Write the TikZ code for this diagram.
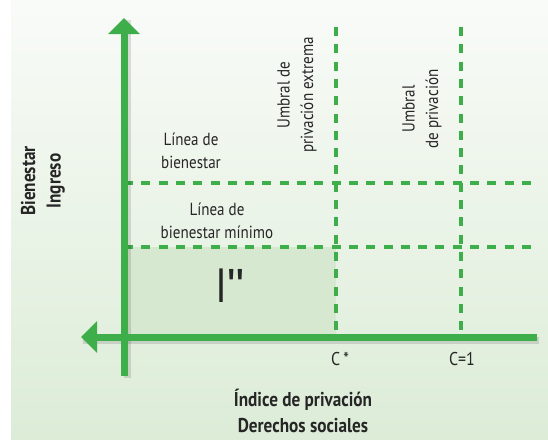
\documentclass[tikz,border=0pt]{standalone}
\usepackage{fontspec}
\setmainfont{PT Sans}[FakeStretch=0.86]
\newfontfamily\markfont{Liberation Sans}[Ligatures=TeXOff]
\usepackage{tikz}
\usetikzlibrary{arrows.meta}
\definecolor{axisgreen}{HTML}{3DAE49}
\definecolor{bgtop}{HTML}{F9FBF8}
\definecolor{bgbot}{HTML}{DCECD7}
\definecolor{zonegreen}{HTML}{D6E8D0}
\tikzset{
  axis/.style={axisgreen,line width=7pt,-{Triangle[length=16pt,width=31pt]}},
  umbral/.style={axisgreen,line width=4pt,dash pattern=on 9pt off 8.3pt},
  lbl/.style={align=center,inner sep=0pt,font=\fontsize{17.5}{23.5}\selectfont,text=black!85},
  tit/.style={align=center,inner sep=0pt,font=\bfseries\fontsize{20}{25.5}\selectfont,text=black!85}
}
\begin{document}
\begin{tikzpicture}[x=1pt,y=-1pt]
\useasboundingbox (0,0) rectangle (548,439);
\shade[top color=bgtop,bottom color=bgbot] (11,0) rectangle (548,439);
%
\coordinate (o) at (124,337);
\coordinate (ytop) at (124,18);
\coordinate (ybot) at (124,376);
\coordinate (xleft) at (81,337);
\coordinate (xright) at (537,337);
\coordinate (cs) at (336,337);
\coordinate (cstop) at (336,27);
\coordinate (cu) at (461,337);
\coordinate (cutop) at (461,27);
\coordinate (lm) at (124,247);
\coordinate (lmend) at (538,247);
\coordinate (lb) at (124,183);
\coordinate (lbend) at (538,183);
%
\fill[zonegreen] (lm) rectangle (cs);
\draw[umbral] (lb) -- (lbend);
\draw[umbral] (lm) -- (lmend);
\draw[umbral] (cstop) -- (cs);
\draw[umbral] (cutop) -- (cu);
%
\draw[black,opacity=.12,line width=7pt] ([shift={(3,2)}]ybot) -- ([shift={(3,2)}]ytop);
\draw[black,opacity=.12,line width=7pt] ([shift={(2,3)}]xright) -- ([shift={(2,3)}]xleft);
\draw[axis] (ybot) -- (ytop);
\draw[axis] (xright) -- (xleft);
%
\node[lbl] (lbtext) at (191,151) {Línea de\\bienestar};
\node[lbl] (lmtext) at (217,221) {Línea de\\bienestar mínimo};
\node[lbl,rotate=90] (ustext) at (297,95) {Umbral de\\privación extrema};
\node[lbl,rotate=90] (uutext) at (422,109) {Umbral\\de privación};
\node[inner sep=0pt,font=\fontsize{48}{48}\selectfont,text=black!85] (izone) at (230,286) {I{\markfont"}};
\node[lbl,font=\fontsize{18.5}{20}\selectfont] (cslbl) at (340,359) {C\,*};
\node[lbl,font=\fontsize{18.5}{20}\selectfont] (culbl) at (462,359) {C=1};
\node[tit,rotate=90] (ytit) at (43,181) {Bienestar\\Ingreso};
\node[tit] (xtit) at (303,411) {Índice de privación\\Derechos sociales};
\end{tikzpicture}
\end{document}
